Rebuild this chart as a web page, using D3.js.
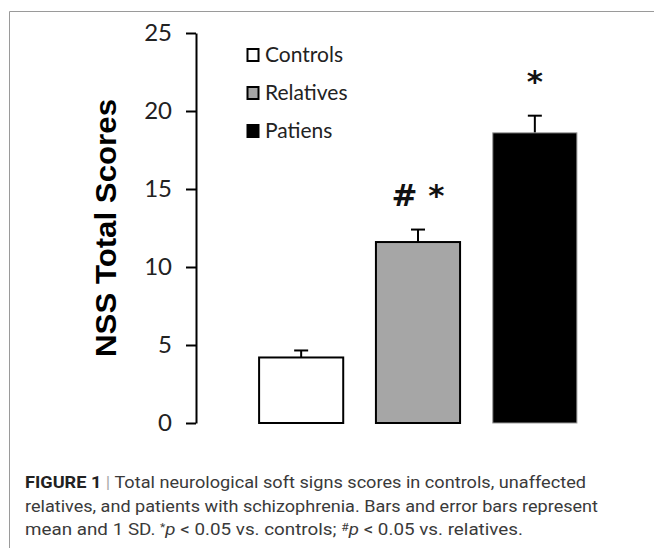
<!DOCTYPE html>
<html>
<head>
<meta charset="utf-8">
<script src="https://cdn.jsdelivr.net/npm/d3@7"></script>
<style>
  body { margin: 0; background: #fff; }
  svg { display: block; }
</style>
</head>
<body>
<div id="chart"></div>
<script>
// data
const groups = ['Controls', 'Relatives', 'Patiens'];
const means = [4.2, 11.6, 18.6];
const sds = [0.45, 0.8, 1.1];
const marks = ['', '# *', '*'];
const fills = ['#ffffff', '#a6a6a6', '#000000'];
const yTicks = [0, 5, 10, 15, 20, 25];
const captionLines = [
  [['FIGURE 1', 'b'], [' | ', 'bar'], ['Total neurological soft signs scores in controls, unaffected', '']],
  [['relatives, and patients with schizophrenia. Bars and error bars represent', '']],
  [['mean and 1 SD. ', ''], ['*', 'sup'], ['p', 'i'], [' < 0.05 vs. controls; ', ''], ['#', 'sup'], ['p', 'i'], [' < 0.05 vs. relatives.', '']]
];
const captionWidths = [561, 573, 498];

const width = 654, height = 548;
const svg = d3.select('#chart')
  .append('svg')
  .attr('width', width)
  .attr('height', height);

// frame
svg.append('path')
  .attr('d', `M9.5,${height + 5} V11.5 H${width + 5}`)
  .attr('fill', 'none')
  .attr('stroke', '#9a9a9a')
  .attr('stroke-width', 1);

const x = d3.scaleBand()
  .domain(groups)
  .range([196, 640])
  .paddingInner(0.28)
  .paddingOuter(0.54);

const y = d3.scaleLinear().domain([0, 25]).range([423, 33]);

// y axis
const yAxis = svg.append('g')
  .attr('transform', 'translate(196,0)')
  .call(d3.axisLeft(y).tickValues(yTicks).tickSize(10).tickSizeOuter(0).tickPadding(14));
yAxis.select('.domain').attr('stroke', '#000').attr('stroke-width', 2);
yAxis.selectAll('.tick line').attr('stroke', '#000').attr('stroke-width', 2);
yAxis.selectAll('.tick text')
  .attr('font-family', 'Lato, "Open Sans", sans-serif')
  .attr('font-size', '24px')
  .attr('fill', '#222');

// axis title
svg.append('text')
  .attr('transform', 'translate(116,228) rotate(-90)')
  .attr('text-anchor', 'middle')
  .attr('font-family', '"Liberation Sans", Arial, sans-serif')
  .attr('font-weight', 'bold')
  .attr('font-size', '29px')
  .attr('fill', '#000')
  .attr('textLength', 258)
  .attr('lengthAdjust', 'spacingAndGlyphs')
  .text('NSS Total Scores');

// error bars (upper only)
const err = svg.append('g')
  .selectAll('g')
  .data(groups)
  .enter()
  .append('g');
err.append('line')
  .attr('x1', d => x(d) + x.bandwidth() / 2)
  .attr('x2', d => x(d) + x.bandwidth() / 2)
  .attr('y1', (d, i) => y(means[i]))
  .attr('y2', (d, i) => y(means[i] + sds[i]))
  .attr('stroke', '#000')
  .attr('stroke-width', 2);
err.append('line')
  .attr('x1', d => x(d) + x.bandwidth() / 2 - 7)
  .attr('x2', d => x(d) + x.bandwidth() / 2 + 7)
  .attr('y1', (d, i) => y(means[i] + sds[i]))
  .attr('y2', (d, i) => y(means[i] + sds[i]))
  .attr('stroke', '#000')
  .attr('stroke-width', 2);

// bars
svg.append('g')
  .selectAll('rect')
  .data(groups)
  .enter()
  .append('rect')
  .attr('x', d => x(d))
  .attr('y', (d, i) => y(means[i]))
  .attr('width', x.bandwidth())
  .attr('height', (d, i) => y(0) - y(means[i]))
  .attr('fill', (d, i) => fills[i])
  .attr('stroke', (d, i) => i === 2 ? '#9a9a9a' : '#000')
  .attr('stroke-width', (d, i) => i === 2 ? 1 : 2);

// significance marks
svg.append('g')
  .selectAll('text')
  .data(groups)
  .enter()
  .append('text')
  .attr('x', d => x(d) + x.bandwidth() / 2)
  .attr('y', (d, i) => y(means[i] + sds[i]) - 24)
  .attr('text-anchor', 'middle')
  .attr('font-family', '"DejaVu Sans", sans-serif')
  .attr('font-weight', 'bold')
  .attr('font-size', '31px')
  .attr('fill', '#111')
  .text((d, i) => marks[i]);

// legend
const legend = svg.append('g')
  .selectAll('g')
  .data(groups)
  .enter()
  .append('g')
  .attr('transform', (d, i) => `translate(247,${55 + i * 38})`);
legend.append('rect')
  .attr('x', 0.5)
  .attr('y', -6)
  .attr('width', 11)
  .attr('height', 12)
  .attr('fill', (d, i) => fills[i])
  .attr('stroke', '#000')
  .attr('stroke-width', 2);
legend.append('text')
  .attr('x', 18)
  .attr('y', 0)
  .attr('dy', '0.35em')
  .attr('font-family', 'Lato, "Open Sans", sans-serif')
  .attr('font-size', '21px')
  .attr('fill', '#222')
  .text(d => d);

// caption
const cap = svg.append('g')
  .attr('font-family', 'Roboto, "Liberation Sans", sans-serif')
  .attr('font-size', '17px')
  .attr('fill', '#3a3a3a');
captionLines.forEach((parts, li) => {
  const t = cap.append('text')
    .attr('x', 25)
    .attr('y', 488 + li * 23.5)
    .attr('textLength', captionWidths[li])
    .attr('lengthAdjust', 'spacingAndGlyphs');
  parts.forEach(([s, kind]) => {
    const ts = t.append('tspan').text(s);
    if (kind === 'b') ts.attr('font-weight', 'bold').attr('fill', '#222');
    if (kind === 'bar') ts.attr('fill', '#aaa');
    if (kind === 'i') ts.attr('font-style', 'italic');
    if (kind === 'sup') ts.attr('font-size', '11px').attr('baseline-shift', '35%');
  });
});
</script>
</body>
</html>
